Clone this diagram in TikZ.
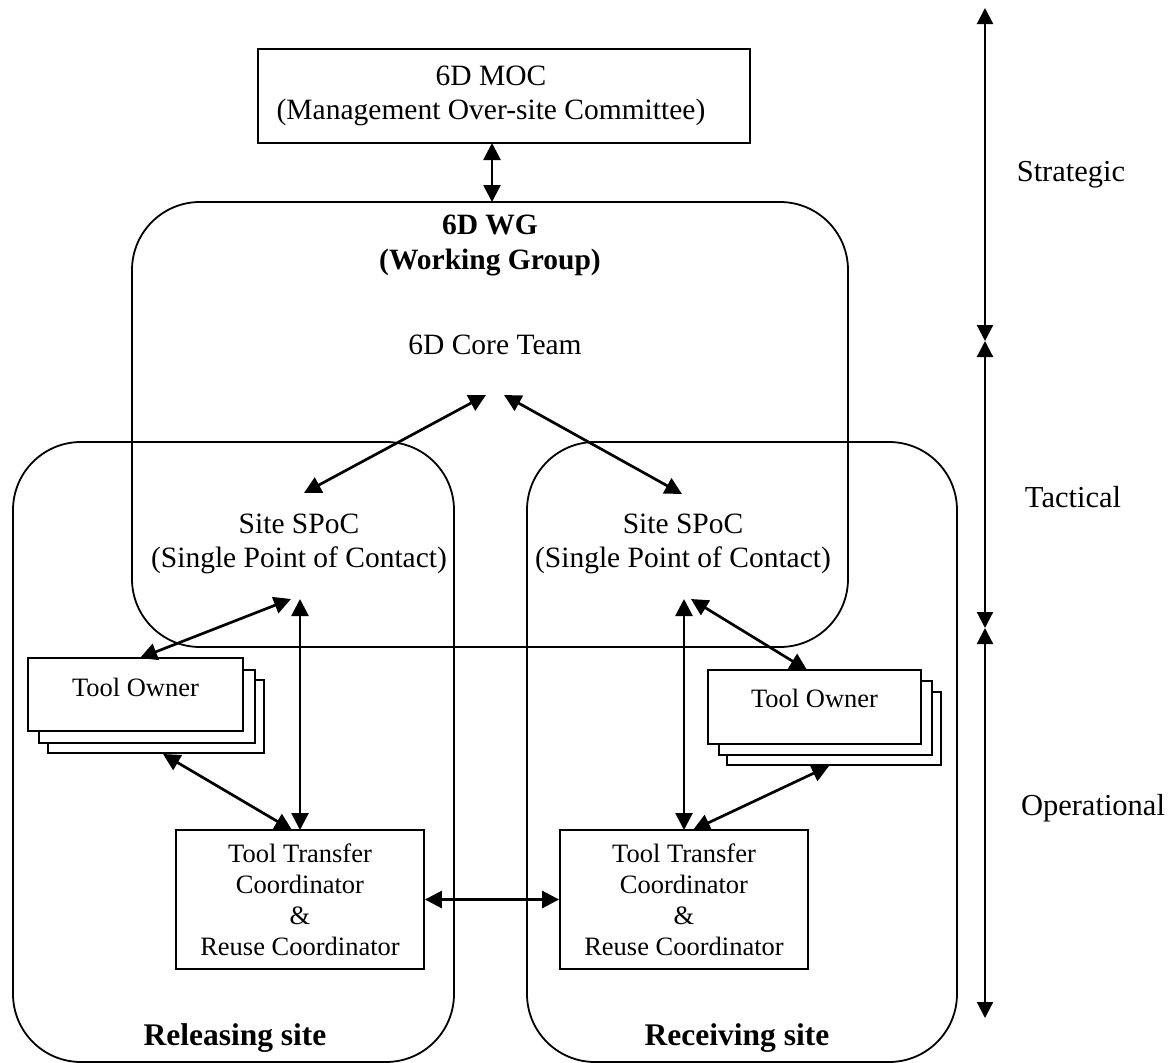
\documentclass[tikz,border=0pt]{standalone}
\usepackage{fontspec}
\setmainfont{Liberation Serif}
\usetikzlibrary{arrows.meta}
\begin{document}
\begin{tikzpicture}[x=1pt,y=-1pt,
  big/.style={font=\fontsize{29.5}{34.5}\selectfont, align=center, inner sep=0pt},
  small/.style={font=\fontsize{26.5}{31}\selectfont, align=center, inner sep=0pt},
  sitelabel/.style={font=\fontsize{31.5}{36}\selectfont\bfseries, inner sep=0pt},
  frame/.style={draw=black, line width=1.8pt, rounded corners=68pt},
  box/.style={draw=black, line width=1.8pt, fill=white, inner sep=0pt},
  conn/.style={line width=2.7pt, {Triangle[length=17pt,width=17pt]}-{Triangle[length=17pt,width=17pt]}},
  levelarrow/.style={line width=2.2pt, {Triangle[length=16pt,width=16pt]}-{Triangle[length=16pt,width=16pt]}}
]
\useasboundingbox (0,0) rectangle (1176,1063);

% ---- big frames ----
\draw[frame] (132,202) rectangle (848,647);   % WG
\draw[frame] (13,442) rectangle (454,1062);   % releasing site
\draw[frame] (527,442) rectangle (957,1062);  % receiving site

% ---- MOC ----
\node[box, minimum width=492pt, minimum height=94pt] (moc) at (504,96) {};
\node[big] (moctext) at (491,96) {6D MOC\\(Management Over-site Committee)};

% ---- WG texts ----
\node[big, font=\fontsize{29.5}{35}\selectfont\bfseries] (wg) at (490,245) {6D WG\\(Working Group)};
\node[big] (core) at (495,345) {6D Core Team};

% ---- SPoC ----
\node[big] (lspoc) at (299,544) {Site SPoC\\(Single Point of Contact)};
\node[big] (rspoc) at (683,544) {Site SPoC\\(Single Point of Contact)};

% ---- Tool owner stacks ----
\node[box, minimum width=216pt, minimum height=73pt] (lto3) at (156,716.5) {};
\node[box, minimum width=216pt, minimum height=73pt] (lto2) at (147,706.5) {};
\node[box, minimum width=215pt, minimum height=73pt] (lto1) at (135.5,694.5) {};
\node[small] (ltotext) at (135.5,687) {Tool Owner};

\node[box, minimum width=214pt, minimum height=73pt] (rto3) at (834,728.5) {};
\node[box, minimum width=213pt, minimum height=74pt] (rto2) at (825.5,718) {};
\node[box, minimum width=213pt, minimum height=74pt] (rto1) at (814.5,707) {};
\node[small] (rtotext) at (814.5,698) {Tool Owner};

% ---- Tool transfer boxes ----
\node[box, small, minimum width=248pt, minimum height=139pt] (ltt) at (300,899.5)
  {Tool Transfer\\Coordinator\\\&\\Reuse Coordinator};
\node[box, small, minimum width=248pt, minimum height=139pt] (rtt) at (684,899.5)
  {Tool Transfer\\Coordinator\\\&\\Reuse Coordinator};

% ---- site labels ----
\node[sitelabel] (rel) at (235,1038) {Releasing site};
\node[sitelabel] (rec) at (737,1038) {Receiving site};

% ---- level labels ----
\node[big, font=\fontsize{30.5}{35}\selectfont] (strat) at (1071,175) {Strategic};
\node[big, font=\fontsize{30.5}{35}\selectfont] (tact) at (1073,497) {Tactical};
\node[big, font=\fontsize{30.5}{35}\selectfont] (oper) at (1093,808) {Operational};

% ---- connector end points ----
\coordinate (mocB) at (492,143);
\coordinate (wgT) at (492,202);
\coordinate (coreL) at (486,395);
\coordinate (coreR) at (504,395);
\coordinate (lspocT) at (304,493);
\coordinate (rspocT) at (682,494);
\coordinate (lspocBL) at (291,599);
\coordinate (lspocB) at (300,599);
\coordinate (rspocB) at (684,599);
\coordinate (rspocBR) at (691,599);
\coordinate (ltoT) at (140,658);
\coordinate (ltoB) at (163,754);
\coordinate (rtoT) at (807,670);
\coordinate (rtoB) at (829,766);
\coordinate (lttT) at (300,830);
\coordinate (lttTL) at (292,830);
\coordinate (rttT) at (684,830);
\coordinate (rttTR) at (693,830);

% ---- connectors ----
\draw[conn] (mocB) -- (wgT);
\draw[conn] (coreL) -- (lspocT);
\draw[conn] (coreR) -- (rspocT);
\draw[conn] (lspocBL) -- (ltoT);
\draw[conn] (lspocB) -- (lttT);
\draw[conn] (ltoB) -- (lttTL);
\draw[conn] (rspocB) -- (rttT);
\draw[conn] (rspocBR) -- (rtoT);
\draw[conn] (rtoB) -- (rttTR);
\draw[conn] (ltt.east) -- (rtt.west);

% ---- level scale ----
\coordinate (sTop) at (985,8);
\coordinate (sB1) at (985,341);
\coordinate (sB2) at (985,628);
\coordinate (sBot) at (985,1018);
\draw[levelarrow] (sTop) -- (sB1);
\draw[levelarrow] (sB1) -- (sB2);
\draw[levelarrow] (sB2) -- (sBot);
\end{tikzpicture}
\end{document}
